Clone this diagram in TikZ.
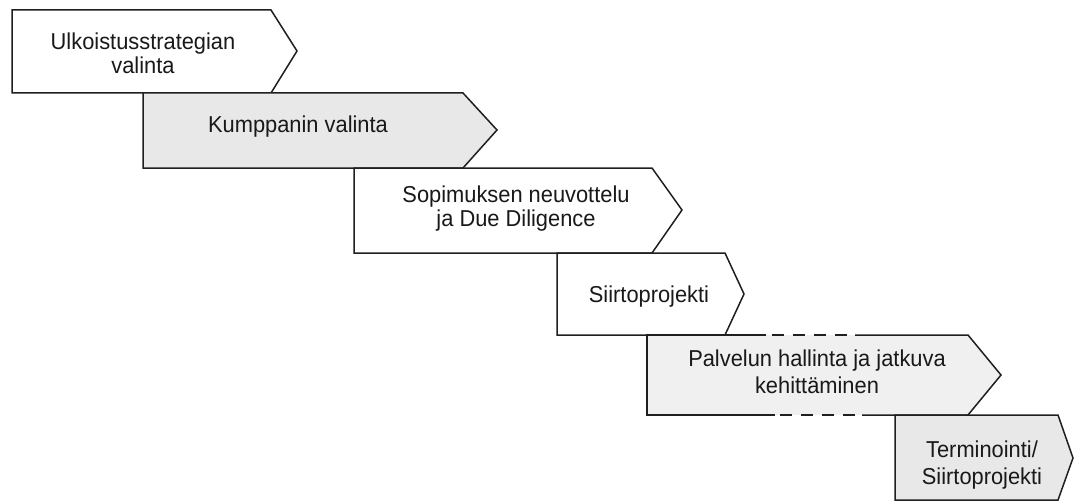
\documentclass[tikz,border=0pt]{standalone}
\usepackage{fontspec}
\setmainfont{Liberation Sans}[FakeStretch=0.95]
\begin{document}
\begin{tikzpicture}[x=1pt,y=-1pt,line join=miter,
  edge/.style={draw=black!88,line width=1.5pt},
  dashedge/.style={draw=black!88,line width=1.5pt,dash pattern=on 12pt off 9pt},
  plain/.style={fill=white},
  shaded/.style={fill=black!9},
  lightshaded/.style={fill=black!6},
  steptext/.style={align=center,inner sep=0pt,text=black!90,font=\fontsize{23}{24}\selectfont},
  widetext/.style={align=center,inner sep=0pt,text=black!90,font=\fontsize{23}{27}\selectfont}]
\useasboundingbox (0,0) rectangle (1074,503);
\fill[white] (0,0) rectangle (1074,503);

% box 1
\path[plain,edge] (12,10) -- (271,10) -- (297,51) -- (271,93) -- (12,93) -- cycle;
% box 2
\path[shaded,edge] (143,93) -- (463,93) -- (497,130) -- (463,168) -- (143,168) -- cycle;
% box 3
\path[plain,edge] (354,168) -- (652,168) -- (682,210) -- (652,253) -- (354,253) -- cycle;
% box 4
\path[plain,edge] (557,253) -- (725,253) -- (744,294) -- (725,335) -- (557,335) -- cycle;
% box 5 (partly dashed outline)
\path[lightshaded] (647,335) -- (968,335) -- (1001,375) -- (968,415) -- (647,415) -- cycle;
\draw[edge] (766,335) -- (647,335) -- (647,415) -- (775,415);
\draw[edge] (855,335) -- (968,335) -- (1001,375) -- (968,415) -- (862,415);
\draw[dashedge] (772,335) -- (847,335);
\draw[dashedge] (780,415) -- (855,415);
% box 6
\path[shaded,edge] (895,415) -- (1058,415) -- (1073,458) -- (1058,500) -- (895,500) -- cycle;

\node[steptext] (t1) at (143,53) {Ulkoistusstrategian\\valinta};
\node[steptext] (t2) at (298,127) {Kumppanin valinta};
\node[steptext] (t3) at (516,209) {Sopimuksen neuvottelu\\ja Due Diligence};
\node[steptext] (t4) at (649,297) {Siirtoprojekti};
\node[widetext] (t5) at (817,372) {Palvelun hallinta ja jatkuva\\kehittäminen};
\node[widetext] (t6) at (982,465) {Terminointi/\\Siirtoprojekti};
\end{tikzpicture}
\end{document}
